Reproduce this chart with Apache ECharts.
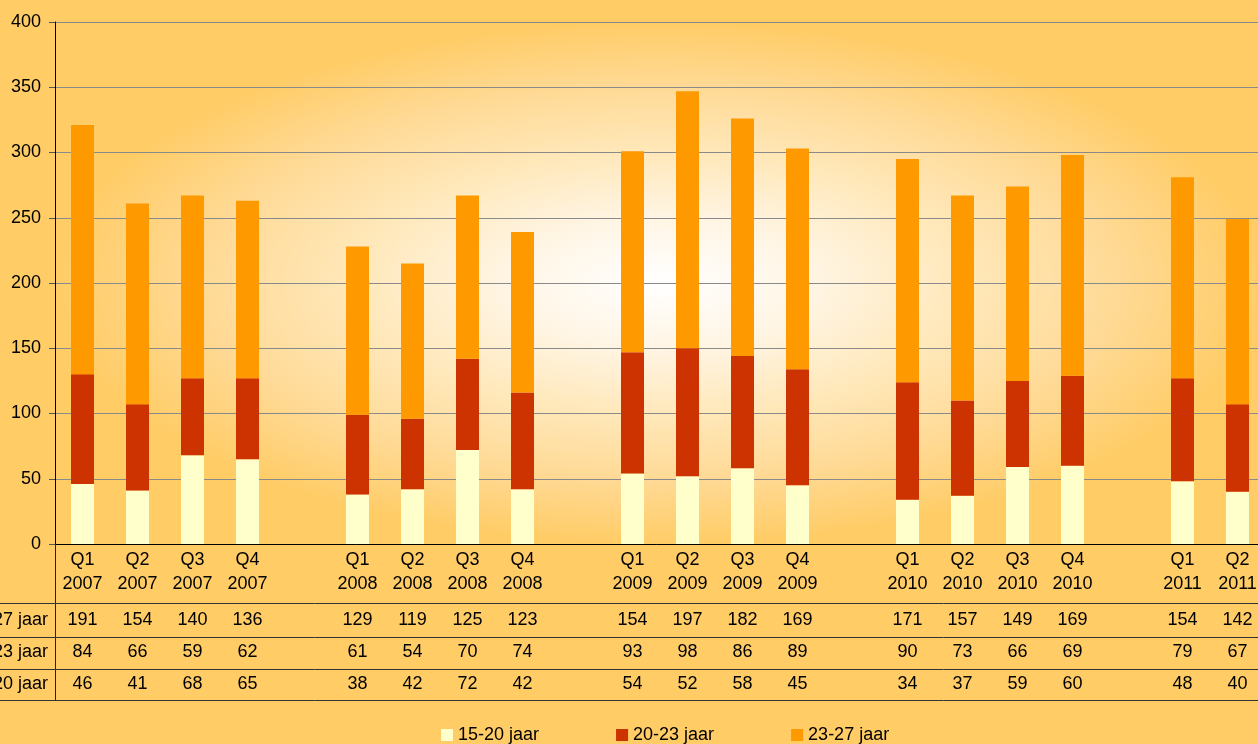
<!DOCTYPE html>
<html>
<head>
<meta charset="utf-8">
<script src="https://cdn.jsdelivr.net/npm/echarts@6/dist/echarts.min.js"></script>
<style>
html,body{margin:0;padding:0;background:#FFCC66;}
#c{width:1258px;height:744px;}
</style>
</head>
<body>
<div id="c"></div>
<script>
// ---- data ----
const categories = [
  'Q1\n2007','Q2\n2007','Q3\n2007','Q4\n2007','',
  'Q1\n2008','Q2\n2008','Q3\n2008','Q4\n2008','',
  'Q1\n2009','Q2\n2009','Q3\n2009','Q4\n2009','',
  'Q1\n2010','Q2\n2010','Q3\n2010','Q4\n2010','',
  'Q1\n2011','Q2\n2011'
];
const age1520 = [46,41,68,65,null, 38,42,72,42,null, 54,52,58,45,null, 34,37,59,60,null, 48,40];
const age2023 = [84,66,59,62,null, 61,54,70,74,null, 93,98,86,89,null, 90,73,66,69,null, 79,67];
const age2327 = [191,154,140,136,null, 129,119,125,123,null, 154,197,182,169,null, 171,157,149,169,null, 154,142];
const seriesNames = ['15-20 jaar','20-23 jaar','23-27 jaar'];
const seriesColors = ['#FFFFCC','#CC3300','#FF9900'];
const yMin = 0, yMax = 400, yStep = 50;

// ---- layout ----
const FONT = '"Liberation Sans", Arial, sans-serif';
const plotLeft = 55, plotTop = 22, plotW = 1210, plotH = 522;
const axisY = plotTop + plotH;
const tableBorders = [603, 637, 669, 700];
const rowCenters = [620, 652, 684];

function rowAxis(values, name, center) {
  const offset = center - 10 - axisY;
  return {
    type: 'category', gridIndex: 0, position: 'bottom', offset: offset,
    data: values.map(v => v == null ? '' : String(v)),
    axisLine: {show: false}, axisTick: {show: false}, splitLine: {show: false},
    axisLabel: {interval: 0, margin: 0, fontSize: 18, lineHeight: 20, color: '#000', fontFamily: FONT},
    name: name, nameLocation: 'start', nameGap: 7,
    nameTextStyle: {fontSize: 18, lineHeight: 20, color: '#000', fontFamily: FONT, align: 'right', verticalAlign: 'top'}
  };
}

const graphics = [
  {
    type: 'rect', x: plotLeft, y: plotTop, scaleX: plotW / plotH, z: -10, silent: true,
    shape: {x: 0, y: 0, width: plotH, height: plotH},
    style: {fill: {type: 'radial', x: 0.5, y: 0.5, r: 0.5, colorStops: [
      {offset: 0, color: '#FFFFFF'},
      {offset: 0.25, color: '#FFF5E4'},
      {offset: 0.5, color: '#FFE8BA'},
      {offset: 0.75, color: '#FFDA96'},
      {offset: 1, color: '#FFCC66'}
    ]}}
  },
  {type: 'line', silent: true, z: 5, shape: {x1: plotLeft + 0.5, y1: axisY, x2: plotLeft + 0.5, y2: tableBorders[3]}, style: {stroke: '#222', lineWidth: 1}}
];
tableBorders.forEach(y => graphics.push({
  type: 'line', silent: true, z: 5,
  shape: {x1: 0, y1: y + 0.5, x2: 1258, y2: y + 0.5},
  style: {stroke: '#333', lineWidth: 1}
}));

const chart = echarts.init(document.getElementById('c'));
chart.setOption({
  backgroundColor: '#FFCC66',
  animation: false,
  textStyle: {fontFamily: FONT},
  grid: {left: plotLeft, top: plotTop, width: plotW, height: plotH, containLabel: false, outerBoundsMode: 'none'},
  legend: {
    data: seriesNames, left: 441, top: 725, padding: 0,
    itemWidth: 12, itemHeight: 12, itemGap: 77, icon: 'rect',
    textStyle: {fontSize: 18, lineHeight: 20, color: '#000', fontFamily: FONT}
  },
  xAxis: [
    {
      type: 'category', data: categories, gridIndex: 0, position: 'bottom',
      axisLine: {show: true, lineStyle: {color: '#000', width: 1}},
      axisTick: {show: false}, splitLine: {show: false},
      axisLabel: {interval: 0, margin: 4, fontSize: 18, lineHeight: 24, color: '#000', fontFamily: FONT}
    },
    rowAxis(age2327, seriesNames[2], rowCenters[0]),
    rowAxis(age2023, seriesNames[1], rowCenters[1]),
    rowAxis(age1520, seriesNames[0], rowCenters[2])
  ],
  yAxis: {
    type: 'value', min: yMin, max: yMax, interval: yStep,
    axisLine: {show: true, lineStyle: {color: '#000', width: 1}},
    axisTick: {show: true, inside: false, length: 6, lineStyle: {color: '#555'}},
    splitLine: {show: true, lineStyle: {color: '#8a8a8a', width: 1}},
    axisLabel: {margin: 14, fontSize: 18, color: '#000', fontFamily: FONT}
  },
  series: [
    {name: seriesNames[0], type: 'bar', stack: 'total', barWidth: 23, xAxisIndex: 0, data: age1520, itemStyle: {color: seriesColors[0]}},
    {name: seriesNames[1], type: 'bar', stack: 'total', barWidth: 23, xAxisIndex: 0, data: age2023, itemStyle: {color: seriesColors[1]}},
    {name: seriesNames[2], type: 'bar', stack: 'total', barWidth: 23, xAxisIndex: 0, data: age2327, itemStyle: {color: seriesColors[2]}}
  ],
  graphic: graphics
});
</script>
</body>
</html>
